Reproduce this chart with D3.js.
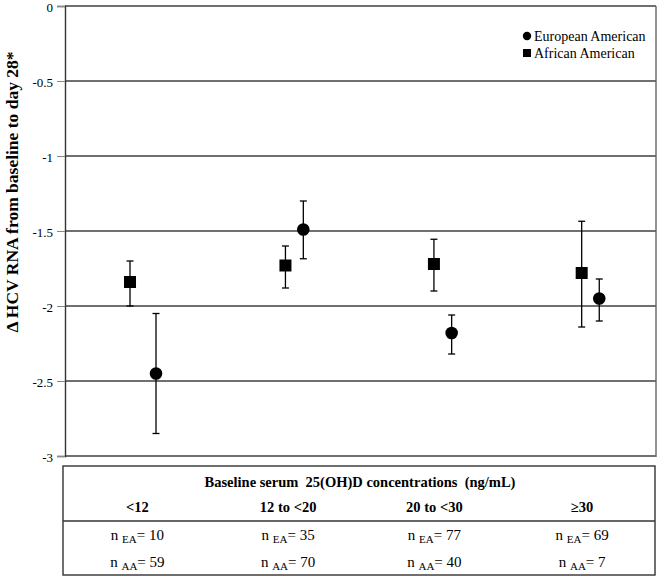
<!DOCTYPE html>
<html>
<head>
<meta charset="utf-8">
<script src="https://cdn.jsdelivr.net/npm/d3@7"></script>
<style>
  body { margin: 0; background: #fff; }
  svg text { font-family: "Liberation Serif", "DejaVu Serif", "Times New Roman", Times, serif; fill: #000; }
</style>
</head>
<body>
<div id="chart"></div>
<script>
// values
const categories = ["<12", "12 to <20", "20 to <30", "\u226530"];
const nEA = [10, 35, 77, 69];
const nAA = [59, 70, 40, 7];

// European American (circles)
const eaX = [0.616, 1.613, 2.617, 3.616];
const eaMean = [-2.45, -1.49, -2.18, -1.95];
const eaLow = [-2.85, -1.685, -2.32, -2.10];
const eaHigh = [-2.05, -1.30, -2.06, -1.82];

// African American (squares)
const aaX = [0.44, 1.492, 2.497, 3.497];
const aaMean = [-1.84, -1.73, -1.72, -1.78];
const aaLow = [-2.0, -1.88, -1.90, -2.14];
const aaHigh = [-1.70, -1.60, -1.555, -1.435];

const yTicks = [0, -0.5, -1, -1.5, -2, -2.5, -3];
const tableX = [0.49, 1.51, 2.5, 3.5];

const serif = "'Liberation Serif', 'DejaVu Serif', 'Times New Roman', Times, serif";

let svgWidth = 660;
let svgHeight = 577;

let svg = d3.select("#chart")
  .append("svg")
  .attr("width", svgWidth)
  .attr("height", svgHeight)
  .attr("font-family", serif);

// plot area
let plotLeft = 65, plotRight = 656, plotTop = 6, plotBottom = 456;

let x = d3.scaleLinear().domain([0, 4]).range([plotLeft, plotRight]);
let y = d3.scaleLinear().domain([-3, 0]).range([plotBottom, plotTop]);

// gridlines
svg.append("g")
  .selectAll("line")
  .data(yTicks)
  .enter().append("line")
  .attr("x1", plotLeft)
  .attr("x2", plotRight)
  .attr("y1", d => y(d))
  .attr("y2", d => y(d))
  .attr("stroke", "#404040")
  .attr("stroke-width", 1.4);

// right border
svg.append("line")
  .attr("x1", plotRight).attr("x2", plotRight)
  .attr("y1", plotTop).attr("y2", plotBottom + 1)
  .attr("stroke", "#666")
  .attr("stroke-width", 1.4);

// y axis
let leftAxis = d3.axisLeft(y)
  .tickValues(yTicks)
  .tickSize(8)
  .tickPadding(4)
  .tickFormat(d => String(d));

let yAxis = svg.append("g")
  .attr("transform", `translate(${plotLeft},0)`)
  .call(leftAxis)
  .attr("font-family", serif);
yAxis.select(".domain")
  .attr("stroke", "#333")
  .attr("stroke-width", 1.4);
yAxis.selectAll(".tick line").attr("stroke", "#888");
yAxis.selectAll(".tick text")
  .attr("font-size", "13px")
  .attr("fill", "#222")
  .attr("dy", "0.4em");

// y axis title
svg.append("text")
  .attr("transform", "rotate(-90)")
  .attr("x", -192)
  .attr("y", 18)
  .attr("text-anchor", "middle")
  .attr("font-size", "17.5px")
  .attr("font-weight", "bold")
  .text("\u0394 HCV RNA from baseline to day 28*");

// error bars
function errorBars(xs, lows, highs) {
  let g = svg.append("g").attr("stroke", "#000").attr("stroke-width", 1.3);
  xs.forEach(function(xv, i) {
    let cx = x(xv);
    g.append("line").attr("x1", cx).attr("x2", cx)
      .attr("y1", y(lows[i])).attr("y2", y(highs[i]));
    [lows[i], highs[i]].forEach(function(v) {
      g.append("line").attr("x1", cx - 3.5).attr("x2", cx + 3.5)
        .attr("y1", y(v)).attr("y2", y(v));
    });
  });
}
errorBars(aaX, aaLow, aaHigh);
errorBars(eaX, eaLow, eaHigh);

// squares
svg.selectAll(".sq")
  .data(aaMean)
  .enter().append("rect")
  .attr("class", "sq")
  .attr("x", (d, i) => x(aaX[i]) - 6)
  .attr("y", d => y(d) - 6)
  .attr("width", 12)
  .attr("height", 12)
  .attr("fill", "#000");

// circles
svg.selectAll(".dot")
  .data(eaMean)
  .enter().append("circle")
  .attr("class", "dot")
  .attr("cx", (d, i) => x(eaX[i]))
  .attr("cy", d => y(d))
  .attr("r", 6.3)
  .attr("fill", "#000");

// legend
let legend = svg.append("g");
legend.append("circle").attr("cx", 527).attr("cy", 36).attr("r", 4.2).attr("fill", "#000");
legend.append("text").attr("x", 534).attr("y", 40.5).attr("font-size", "14px").text("European American");
legend.append("rect").attr("x", 523).attr("y", 49).attr("width", 8).attr("height", 8).attr("fill", "#000");
legend.append("text").attr("x", 534).attr("y", 57.5).attr("font-size", "14px").text("African American");

// table below the chart
let tableTop = 466, tableMid = 521, tableBottom = 575;
svg.append("rect")
  .attr("x", 63).attr("y", tableTop)
  .attr("width", 592).attr("height", tableBottom - tableTop)
  .attr("fill", "none")
  .attr("stroke", "#333")
  .attr("stroke-width", 1.4);
svg.append("line")
  .attr("x1", 63).attr("x2", 655)
  .attr("y1", tableMid).attr("y2", tableMid)
  .attr("stroke", "#333")
  .attr("stroke-width", 1.4);

svg.append("text")
  .attr("x", 360).attr("y", 487)
  .attr("text-anchor", "middle")
  .attr("font-size", "14.5px")
  .attr("font-weight", "bold")
  .attr("xml:space", "preserve")
  .text("Baseline serum  25(OH)D concentrations  (ng/mL)");

svg.selectAll(".cat")
  .data(categories)
  .enter().append("text")
  .attr("class", "cat")
  .attr("x", (d, i) => x(tableX[i]))
  .attr("y", 512)
  .attr("text-anchor", "middle")
  .attr("font-size", "14.5px")
  .attr("font-weight", "bold")
  .text(d => d);

function nRow(values, sub, yPos) {
  values.forEach(function(v, i) {
    let t = svg.append("text")
      .attr("x", x(tableX[i]))
      .attr("y", yPos)
      .attr("text-anchor", "middle")
      .attr("font-size", "15px");
    t.append("tspan").text("n ");
    t.append("tspan").attr("font-size", "11px").attr("dy", 3).text(sub);
    t.append("tspan").attr("dy", -3).text("= " + v);
  });
}
nRow(nEA, "EA", 540);
nRow(nAA, "AA", 567);
</script>
</body>
</html>
